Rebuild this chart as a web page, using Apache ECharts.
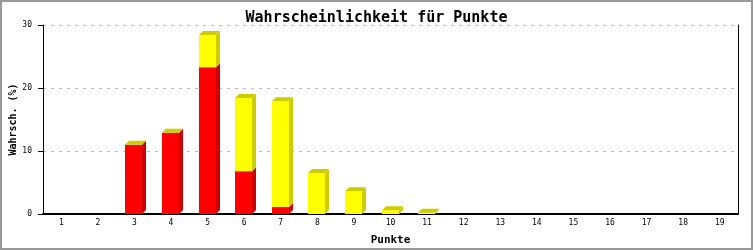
<!DOCTYPE html>
<html><head><meta charset="utf-8">
<script src="https://cdn.jsdelivr.net/npm/echarts@6/dist/echarts.min.js"></script>
<style>html,body{margin:0;padding:0;background:#fff}#c{width:753px;height:250px}</style>
</head><body><div id="c"></div>
<script>
const categories = ['1','2','3','4','5','6','7','8','9','10','11','12','13','14','15','16','17','18','19'];
const redValues =    [0, 0, 11.0, 12.9, 23.3, 6.8, 1.1, 0, 0, 0, 0, 0, 0, 0, 0, 0, 0, 0, 0];
const yellowValues = [0, 0, 0, 0, 5.1, 11.6, 16.8, 6.5, 3.6, 0.6, 0.2, 0, 0, 0, 0, 0, 0, 0, 0];
const yTicks = [0, 10, 20, 30];

const data = [];
categories.forEach((c, i) => {
  if (redValues[i] + yellowValues[i] > 0) data.push([i, redValues[i], yellowValues[i]]);
});

const RED = '#ff0000', RED_D = '#cc0000', YEL = '#ffff00', YEL_D = '#cccc00';
const W = 17, D = 4;

function renderItem(params, api) {
  const idx = api.value(0), r = api.value(1), yv = api.value(2);
  const p0 = api.coord([idx, 0]);
  const p1 = api.coord([idx, r]);
  const p2 = api.coord([idx, r + yv]);
  const xl = Math.round(p0[0] - 9), xr = xl + W;
  const children = [];
  function seg(yb, yt, front, side) {
    if (yb - yt <= 0) return;
    children.push({type: 'polygon', shape: {points: [[xr, yb], [xr + D, yb - D], [xr + D, yt - D], [xr, yt]]}, style: {fill: side}});
    children.push({type: 'rect', shape: {x: xl, y: yt, width: W, height: yb - yt}, style: {fill: front}});
  }
  seg(p0[1], p1[1], RED, RED_D);
  seg(p1[1], p2[1], YEL, YEL_D);
  const yt = p2[1];
  children.push({type: 'polygon', shape: {points: [[xl, yt], [xl + D, yt - D], [xr + D, yt - D], [xr, yt]]}, style: {fill: YEL_D}});
  return {type: 'group', children};
}

const chart = echarts.init(document.getElementById('c'), null, {renderer: 'canvas'});
const mono = '"DejaVu Sans Mono", monospace';
chart.setOption({
  animation: false,
  backgroundColor: '#fff',
  title: {
    text: 'Wahrscheinlichkeit für Punkte', left: 'center', top: 6,
    textStyle: {fontFamily: mono, fontSize: 15, fontWeight: 'bold', color: '#000'}
  },
  grid: {left: 43, right: 15, top: 25, bottom: 36, containLabel: false, outerBoundsMode: 'none'},
  xAxis: {
    type: 'category', data: categories, boundaryGap: true,
    name: 'Punkte', nameLocation: 'middle', nameGap: 21, nameMoveOverlap: false,
    nameTextStyle: {fontFamily: mono, fontSize: 11, fontWeight: 'bold', color: '#000'},
    axisLine: {lineStyle: {color: '#000', width: 2}},
    axisTick: {show: false},
    axisLabel: {fontFamily: mono, fontSize: 8, color: '#000', margin: 5}
  },
  yAxis: [{
    type: 'value', min: yTicks[0], max: yTicks[yTicks.length - 1], interval: 10,
    name: 'Wahrsch. (%)', nameLocation: 'middle', nameGap: 25, nameMoveOverlap: false,
    nameTextStyle: {fontFamily: mono, fontSize: 10, fontWeight: 'bold', color: '#000'},
    axisLine: {show: true, lineStyle: {color: '#000', width: 1}},
    axisTick: {show: true, length: 5, lineStyle: {color: '#000'}},
    axisLabel: {fontFamily: mono, fontSize: 8, color: '#000', margin: 11},
    splitLine: {show: true, lineStyle: {color: '#bbb', type: [3, 5]}}
  }, {
    type: 'value', min: 0, max: 30, interval: 10, position: 'right',
    axisLine: {show: true, lineStyle: {color: '#000', width: 1}},
    axisTick: {show: false}, axisLabel: {show: false}, splitLine: {show: false}
  }],
  graphic: [{
    type: 'rect', shape: {x: 1, y: 1, width: 751, height: 248},
    style: {fill: 'none', stroke: '#999', lineWidth: 2}, z: 100
  }],
  series: [{
    type: 'custom', renderItem: renderItem, data: data,
    encode: {x: 0, y: [1, 2]}, clip: false
  }]
});
</script></body></html>
